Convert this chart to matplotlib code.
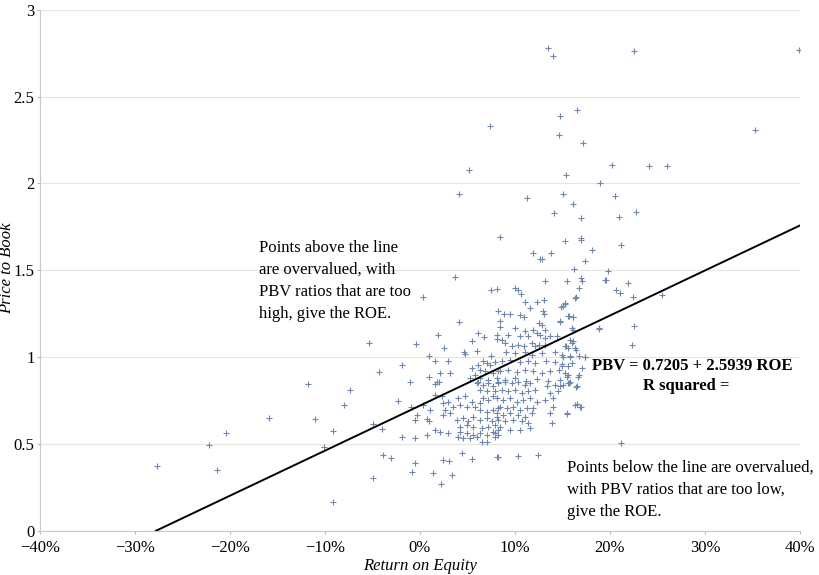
import numpy as np
import matplotlib
matplotlib.use('Agg')
import matplotlib.pyplot as plt
from matplotlib.ticker import FuncFormatter

plt.rcParams['font.family'] = ['Liberation Serif', 'DejaVu Serif']

# Return on equity (%) and price to book
roe = [
    -27.7, -22.2, -21.4, -5.4, -4.35, -11.8, -7.4, -2.3, -8.0, -15.9, -11.0, -20.4, -9.2, -4.9, -4.0,
    -10.1, -3.9, -3.1, -4.9, -9.2,
    13.5, 14.0, 22.5, 39.9, 14.7, 16.5, 7.4, 14.6, 17.2, 35.3, 5.2, 20.2, 24.1, 26.0, 15.4, 18.9, 4.1,
    11.3, 15.1, 20.5, 16.1, 14.1, 17.0, 20.9, 22.7, 8.4, 15.3, 16.9, 17.0, 21.2, 11.9, 13.8, 18.1, 12.6,
    12.8, 17.4, 16.2, 19.8, 3.7, 17.0,
    0.35, 7.5, 8.1, 4.1, 1.9, 6.1, 6.7, 8.1, 8.1, -0.4, 2.5, 5.5, 4.6, 4.7, 6.0, 8.2, 0.9, 1.6, 3.0,
    -1.9, 7.5, 2.1, 3.2, 0.9, -1.05, 1.8,
    5.44, 6.14, 6.67, 7.02, 7.37, 7.89, 6.32, 6.84, 5.79, 7.72, 8.25, 5.26, 6.32, 7.19, 8.07, 5.97,
    13.2, 15.5, 17.1, 19.5, 20.6, 21.1, 10.0, 10.35, 10.6, 16.7, 16.3, 13.1, 11.1, 12.3, 15.3, 14.8,
    11.6, 8.8, 9.5, 10.5, 10.9, 13.0, 13.1, 15.7, 16.1, 14.7, 18.8, 8.4, 8.4, 12.5, 12.8, 13.2, 10.0,
    11.05, 11.9, 12.3, 12.6, 9.3, 10.5, 11.4, 13.2, 13.7, 14.4, 8.6, 8.9, 16.0, 15.4, 16.3, 9.65,
    10.35, 10.9, 11.75, 12.1, 12.5, 13.2, 9.1, 10.0, 11.05, 11.75, 12.8, 14.2, 14.9, 15.8, 16.7, 17.4,
    8.6, 9.5, 10.5, 11.4, 12.1, 13.3, 14.2, 14.9, 16.0, 8.4, 9.3, 10.2, 11.05, 11.9, 12.8, 13.7, 14.6,
    15.3, 16.7, 8.9, 10.0, 11.2, 12.3, 13.5, 14.7, 15.8,
    1.6, 2.0, -0.9, 1.6, 2.3, 0.35, 1.05, -0.35, -0.5, 0.7, 1.0, 1.6, 2.1, 3.0, -1.9, -0.5, 0.7,
    2.46, 2.98, 2.63, 3.16, 2.46, 3.51, 4.04, 4.74, 4.21, 4.91, 5.44, 5.79, 6.32, 6.67, 7.19, 7.72,
    6.32, 7.02, 7.72, 8.25, 3.86, 4.56, 5.09, 5.61, 6.32, 7.02, 7.54, 8.07, 4.21, 4.91, 5.61, 6.49,
    7.19, 7.89, 4.21, 4.91, 5.61, 6.32, 7.02, 7.72, 4.04, 4.56, 5.26, 5.97, 6.49, 7.02, 7.89, 8.25,
    6.14, 6.67, 7.19, 7.72, 8.25, 6.32, 7.02, 7.89,
    -0.53, 2.39, 3.09, 4.39, 5.44, 8.14, -0.81, 1.4, 3.33, 2.18,
    8.24, 8.94, 9.64, 10.35, 11.05, 11.57, 8.59, 9.29, 9.99, 10.7, 11.4, 12.1, 8.07, 8.77, 9.47,
    10.17, 10.87, 11.57, 12.28, 8.42, 9.12, 9.82, 10.52, 11.22, 11.93, 8.07, 8.77, 9.47, 10.35,
    11.05, 11.75, 8.24, 8.94, 9.82, 10.7, 11.4, 8.42, 9.47, 10.52, 11.57, 7.89, 8.24,
    13.33, 14.21, 14.73, 15.61, 16.49, 13.68, 14.56, 14.03, 13.15, 16.31, 16.84, 14.03, 13.68,
    15.43, 13.85, 8.17, 10.35, 12.45, 21.2,
    19.58, 21.93, 16.42, 22.39, 25.44, 15.27, 15.02, 15.62, 16.14, 14.74, 15.97, 16.07, 18.88,
    22.53, 15.79, 16.14, 15.27, 15.62, 16.42, 22.28, 15.09, 15.79, 17.37, 14.92, 15.62, 17.02,
    15.44, 15.62, 16.67, 15.09, 15.72, 16.42, 16.56, 16.92, 15.44,
]
pbv = [
    0.37, 0.494, 0.35, 1.083, 0.913, 0.844, 0.81, 0.748, 0.725, 0.648, 0.642, 0.563, 0.576, 0.615,
    0.588, 0.483, 0.435, 0.421, 0.306, 0.167,
    2.78, 2.735, 2.76, 2.77, 2.39, 2.42, 2.33, 2.277, 2.233, 2.305, 2.077, 2.108, 2.102, 2.102, 2.046,
    2.004, 1.94, 1.917, 1.94, 1.927, 1.883, 1.829, 1.80, 1.806, 1.837, 1.691, 1.667, 1.675, 1.683,
    1.648, 1.597, 1.602, 1.614, 1.564, 1.564, 1.556, 1.506, 1.493, 1.46, 1.454,
    1.344, 1.384, 1.394, 1.20, 1.125, 1.138, 1.117, 1.129, 1.106, 1.075, 1.052, 1.090, 1.029, 1.017,
    1.036, 1.263, 1.009, 0.979, 0.979, 0.952, 1.009, 0.911, 0.911, 0.888, 0.859, 0.859,
    0.936, 0.955, 0.975, 0.965, 0.955, 0.971, 0.927, 0.917, 0.898, 0.907, 0.917, 0.879, 0.879, 0.869,
    0.879, 0.85,
    1.44, 1.44, 1.436, 1.442, 1.388, 1.369, 1.398, 1.388, 1.363, 1.398, 1.34, 1.33, 1.315, 1.32,
    1.306, 1.288, 1.28, 1.248, 1.248, 1.244, 1.228, 1.267, 1.248, 1.234, 1.228, 1.20, 1.167, 1.205,
    1.176, 1.196, 1.186, 1.157, 1.167, 1.148, 1.157, 1.138, 1.129, 1.129, 1.119, 1.119, 1.11, 1.119,
    1.119, 1.10, 1.081, 1.081, 1.061, 1.052, 1.061, 1.071, 1.061, 1.081, 1.061, 1.071, 1.071, 1.032,
    1.023, 1.032, 1.013, 1.023, 1.032, 1.013, 1.003, 1.009, 1.003, 0.975, 0.984, 0.971, 0.979, 0.965,
    0.979, 0.971, 0.96, 0.965, 0.917, 0.927, 0.913, 0.927, 0.917, 0.908, 0.917, 0.927, 0.908, 0.898,
    0.869, 0.879, 0.863, 0.875, 0.863, 0.869, 0.859,
    0.846, 0.859, 0.715, 0.783, 0.773, 0.725, 0.696, 0.667, 0.638, 0.642, 0.629, 0.581, 0.571, 0.562,
    0.539, 0.533, 0.552,
    0.734, 0.744, 0.696, 0.677, 0.667, 0.715, 0.763, 0.773, 0.725, 0.715, 0.744, 0.715, 0.734, 0.763,
    0.754, 0.773, 0.696, 0.686, 0.696, 0.706, 0.638, 0.648, 0.629, 0.657, 0.638, 0.648, 0.629, 0.657,
    0.60, 0.609, 0.60, 0.59, 0.60, 0.609, 0.571, 0.561, 0.552, 0.561, 0.552, 0.571, 0.542, 0.532,
    0.532, 0.542, 0.513, 0.513, 0.542, 0.581,
    0.859, 0.84, 0.85, 0.831, 0.859, 0.811, 0.802, 0.802,
    0.392, 0.407, 0.404, 0.446, 0.411, 0.423, 0.34, 0.334, 0.321, 0.269,
    0.85, 0.859, 0.85, 0.859, 0.84, 0.85, 0.811, 0.802, 0.811, 0.792, 0.802, 0.811, 0.763, 0.754,
    0.763, 0.744, 0.754, 0.763, 0.744, 0.715, 0.706, 0.715, 0.696, 0.706, 0.706, 0.677, 0.667, 0.677,
    0.667, 0.657, 0.677, 0.638, 0.629, 0.638, 0.629, 0.619, 0.60, 0.581, 0.581, 0.59, 0.561, 0.552,
    0.831, 0.84, 0.831, 0.85, 0.834, 0.792, 0.802, 0.763, 0.754, 0.725, 0.711, 0.715, 0.677, 0.677,
    0.623, 0.423, 0.431, 0.438, 0.507,
    1.446, 1.427, 1.346, 1.346, 1.359, 1.311, 1.296, 1.234, 1.23, 1.205, 1.167, 1.157, 1.161, 1.18,
    1.10, 1.09, 1.065, 1.052, 1.042, 1.071, 1.003, 1.007, 0.999, 0.946, 0.946, 0.936, 0.888, 0.898,
    0.884, 0.84, 0.853, 0.83, 0.73, 0.715, 0.673,
]

# regression shown on the chart
intercept = 0.7205
slope = 2.5939
line_roe = [-27.78, 40.0]

x_ticks = [-40, -30, -20, -10, 0, 10, 20, 30, 40]
y_ticks = [0, 0.5, 1, 1.5, 2, 2.5, 3]

fig = plt.figure(figsize=(8.19, 5.75), dpi=100)
ax = fig.add_axes([0.0488, 0.077, 0.928, 0.906])

ax.scatter(roe, pbv, marker='+', s=22, linewidths=0.8, color='#6f87aa', zorder=3)

lx = np.array(line_roe)
ax.plot(lx, intercept + slope * lx / 100, color='black', lw=1.4, zorder=4)

ax.set_xlim(-40, 40)
ax.set_ylim(0, 3)
ax.set_xticks(x_ticks)
ax.set_yticks(y_ticks)
ax.xaxis.set_major_formatter(FuncFormatter(lambda v, p: f"{v:.0f}%".replace('-', '\u2212')))
ax.yaxis.set_major_formatter(FuncFormatter(lambda v, p: f"{v:g}"))
ax.tick_params(axis='both', labelsize=12, colors='#bbbbbb', labelcolor='black')
ax.tick_params(axis='y', length=2, pad=2)
ax.tick_params(axis='x', length=2.5, pad=4.5)

ax.grid(axis='y', color='#e4e4e4', lw=0.8, zorder=0)
ax.set_axisbelow(True)
for s in ['top', 'right']:
    ax.spines[s].set_visible(False)
for s in ['left', 'bottom']:
    ax.spines[s].set_color('#c8c8c8')
    ax.spines[s].set_linewidth(0.8)

fig.text(420 / 819, 1 - 566 / 575, 'Return on Equity', fontsize=12, style='italic', ha='center', va='center')
fig.text(7 / 819, 1 - 268 / 575, 'Price to Book', fontsize=12, style='italic', rotation=90,
         ha='center', va='center')

ax.text(-16.95, 1.674, 'Points above the line\nare overvalued, with\nPBV ratios that are too\nhigh, give the ROE.',
        fontsize=12, ha='left', va='top', linespacing=1.5)
ax.text(28.7, 0.928, 'PBV = 0.7205 + 2.5939 ROE', fontsize=12, fontweight='bold', ha='center', va='baseline')
ax.text(28.0, 0.811, 'R squared =', fontsize=12, fontweight='bold', ha='center', va='baseline')
ax.text(15.5, 0.41, 'Points below the line are overvalued,\nwith PBV ratios that are too low,\ngive the ROE.',
        fontsize=12, ha='left', va='top', linespacing=1.5)

fig.savefig('out.png', dpi=100)
